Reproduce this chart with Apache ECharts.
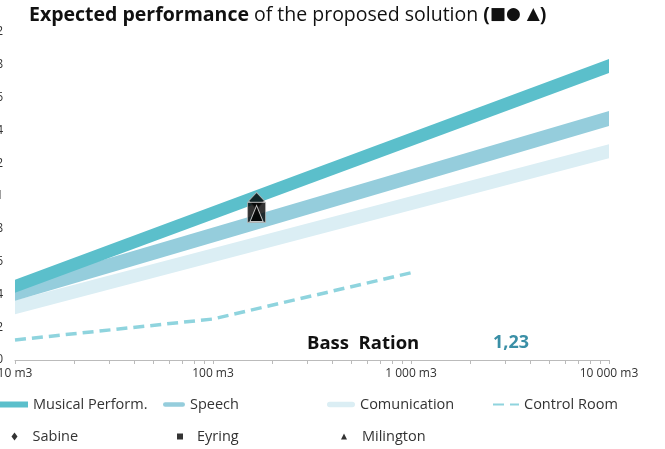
<!DOCTYPE html>
<html><head><meta charset="utf-8">
<script src="https://cdn.jsdelivr.net/npm/echarts@6/dist/echarts.min.js"></script>
<style>html,body{margin:0;padding:0;background:#fff}#c{width:665px;height:449px}</style>
</head><body><div id="c"></div>
<script>
// ---- data ----
const volumeEnds = [10, 10000];                 // m3, band start / end
const musicalLow = [0.41, 1.75];
const musicalHigh = [0.49, 1.835];
const speechLow = [0.362, 1.427];
const speechHigh = [0.452, 1.518];
const commLow = [0.279, 1.23];
const commHigh = [0.364, 1.315];
const controlVolume = [10, 100, 1000];
const controlValue = [0.122, 0.25, 0.532];
const markerVolume = [166];
const sabineValue = [0.97];
const eyringValue = [0.90];
const milingtonValue = [0.893];
const xMinorTicks = [10,20,30,40,50,60,70,80,90,100,200,300,400,500,600,700,800,900,1000,2000,3000,4000,5000,6000,7000,8000,9000,10000];
const bassRatioLabel = 'Bass  Ration';
const bassRatioValue = '1,23';

const FONT = 'Open Sans';
const C_MUS = '#5bbfcb', C_SP = '#95cddc', C_COM = '#dbeef4', C_CTRL = '#8fd4de';

function fmtThousands(v){
  return String(Math.round(v)).replace(/\B(?=(\d{3})+(?!\d))/g, ' ');
}
function band(name, low, high, color, z){
  return {
    type:'custom', name, z, silent:true, animation:false,
    itemStyle:{color},
    data:[[volumeEnds[0], low[0], high[0], volumeEnds[1], low[1], high[1]]],
    encode:{x:[0,3], y:[1,2,4,5]},
    renderItem:(params, api)=>{
      const a = api.coord([api.value(0), api.value(1)]);
      const b = api.coord([api.value(0), api.value(2)]);
      const c = api.coord([api.value(3), api.value(5)]);
      const d = api.coord([api.value(3), api.value(4)]);
      return {type:'polygon', shape:{points:[a,b,c,d]}, style:{fill:color}};
    }
  };
}
const pairs = (xs, ys) => xs.map((x,i)=>[x, ys[i]]);

const chart = echarts.init(document.getElementById('c'), null, {renderer:'canvas'});
function lg(item, left, top, w, h, padLeft){
  return {data:[item], left, top, itemWidth:w, itemHeight:h, padding:0, selectedMode:false,
          textStyle:{fontFamily:FONT, fontSize:14.5, color:'#333', padding:[0,0,0,padLeft||0]},
          itemStyle:{borderWidth:0}};
}
const pill = 'path://M3,0 H27 A3,3 0 0 1 27,6 H3 A3,3 0 0 1 3,0 Z';
chart.setOption({
  animation:false,
  title:{
    left:29, top:5, padding:0,
    text:'{b|Expected performance} {n|of the proposed solution} {b|(}{s|■● ▲}{b|)}',
    textStyle:{rich:{
      b:{fontFamily:FONT, fontSize:19.5, fontWeight:'bold', color:'#111'},
      n:{fontFamily:FONT, fontSize:19.5, fontWeight:'normal', color:'#111'},
      s:{fontFamily:'DejaVu Sans', fontSize:17, fontWeight:'bold', color:'#111'}
    }}
  },
  grid:{left:15, right:56, top:32, bottom:89, containLabel:false, outerBoundsMode:'none'},
  xAxis:{
    type:'log', logBase:10, min:10, max:10000,
    axisLine:{show:true, lineStyle:{color:'#bbb', width:1}},
    axisTick:{show:true, length:4, lineStyle:{color:'#bbb'}, customValues:xMinorTicks},
    axisLabel:{fontFamily:FONT, fontSize:12, color:'#333', margin:8,
      formatter:v=>fmtThousands(v)+' m3'},
    splitLine:{show:false}, minorTick:{show:false}
  },
  yAxis:{
    type:'value', min:0, max:2, interval:0.2,
    axisLine:{show:false}, axisTick:{show:false}, splitLine:{show:false},
    axisLabel:{fontFamily:FONT, fontSize:12, color:'#333', margin:12,
      formatter:v=>String(+v.toFixed(1)).replace('.', ',')}
  },
  legend:[
    lg({name:'Musical Perform.', icon:'rect'}, 0, 397, 28, 6),
    lg({name:'Speech', icon:pill}, 163, 397, 22, 6),
    lg({name:'Comunication', icon:pill}, 327, 397, 28, 6),
    lg({name:'Control Room', itemStyle:{color:'rgba(0,0,0,0)', opacity:0}}, 492, 397, 26, 6),
    lg({name:'Sabine', icon:'diamond'}, 11.5, 429, 6, 8, 10),
    lg({name:'Eyring', icon:'rect'}, 177, 429, 6, 6, 9),
    lg({name:'Milington', icon:'triangle'}, 341, 429, 6, 6, 10)
  ],
  graphic:[
    {type:'text', left:307, top:334, style:{text:bassRatioLabel, font:'bold 18.5px "'+FONT+'"', fill:'#111'}},
    {type:'text', left:493, top:334, style:{text:bassRatioValue, font:'bold 18px "'+FONT+'"', fill:'#3a8fa6'}}
  ],
  series:[
    band('Comunication', commLow, commHigh, C_COM, 1),
    band('Speech', speechLow, speechHigh, C_SP, 2),
    band('Musical Perform.', musicalLow, musicalHigh, C_MUS, 3),
    {type:'line', name:'Control Room', data:pairs(controlVolume, controlValue), symbol:'none', z:4,
      lineStyle:{color:C_CTRL, width:3.5, type:[11,6]}, itemStyle:{color:C_CTRL}},
    {type:'scatter', name:'Sabine', symbol:'diamond', symbolSize:[16,17], z:5,
      data:pairs(markerVolume, sabineValue), itemStyle:{color:'#000', borderColor:'#bbb', borderWidth:1}},
    {type:'scatter', name:'Eyring', symbol:'rect', symbolSize:[18,20], z:6,
      data:pairs(markerVolume, eyringValue), itemStyle:{color:'#000', borderColor:'#bbb', borderWidth:1}},
    {type:'scatter', name:'Milington', symbol:'triangle', symbolSize:[13,16], z:7,
      data:pairs(markerVolume, milingtonValue), itemStyle:{color:'#000', borderColor:'#eee', borderWidth:1}}
  ]
});
</script></body></html>
